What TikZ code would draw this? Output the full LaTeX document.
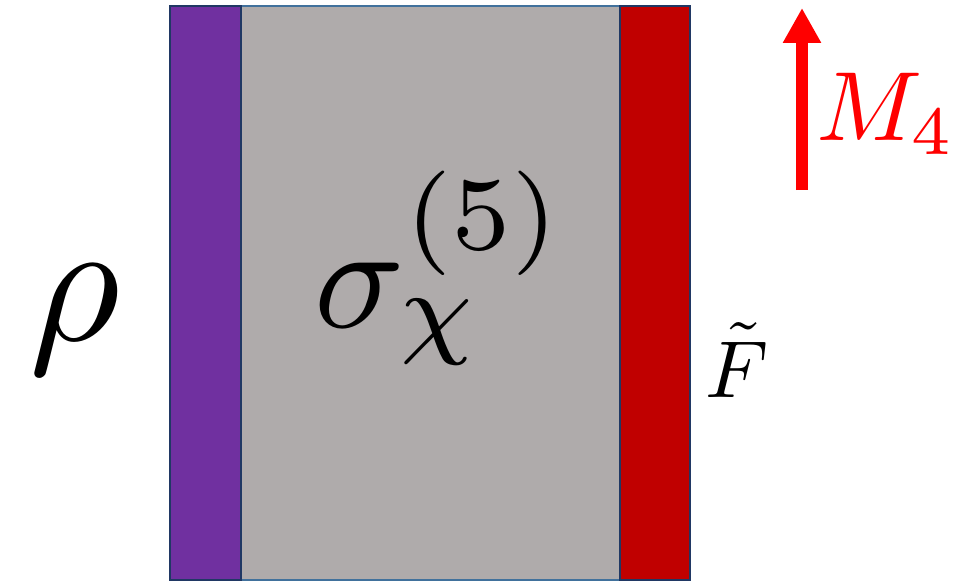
\documentclass[tikz,border=0pt]{standalone}
\usepackage{amsmath,amssymb}
\usepackage{tikz}
\usetikzlibrary{arrows.meta,positioning}

\definecolor{slabpurple}{HTML}{7030A0}
\definecolor{slabgray}{HTML}{AFABAB}
\definecolor{slabred}{HTML}{C00000}
\definecolor{edgenavy}{HTML}{203864}
\definecolor{edgeblue}{HTML}{41719C}

\begin{document}
\begin{tikzpicture}[
  x=0.02cm, y=-0.02cm,
  slab/.style={draw=edgenavy, line width=1.6pt, inner sep=0pt, outer sep=0pt, minimum height=11.48cm},
  bulk/.style={slab, draw=edgeblue, line width=0.8pt},
  lbl/.style={inner sep=0pt, transform shape},
  arr/.style={-{Triangle[width=0.72cm,length=0.7cm]}, line width=0.24cm, red}
]
\useasboundingbox (0,0) rectangle (960,582);
\node[bulk, fill=slabgray, minimum width=7.58cm] (bulk) at (430.5,293) {};
\node[slab, fill=slabpurple, minimum width=1.42cm] (left) at (205.5,293) {};
\node[slab, fill=slabred, minimum width=1.40cm] (right) at (655,293) {};

\node[lbl, scale=10] (rho) at (75,320) {$\rho$};
\node[lbl, scale=8.5] (sigma) at (440,268) {$\sigma_{\chi}^{(5)}$};
\node[lbl, scale=4.6] (ftilde) at (737,360) {$\tilde{F}$};
\node[lbl, scale=5.6, text=red] (mfour) at (886,114) {$M_4$};

\coordinate (arrfoot) at (802,190);
\coordinate (arrhead) at (802,8);
\draw[arr] (arrfoot) -- (arrhead);
\end{tikzpicture}
\end{document}
